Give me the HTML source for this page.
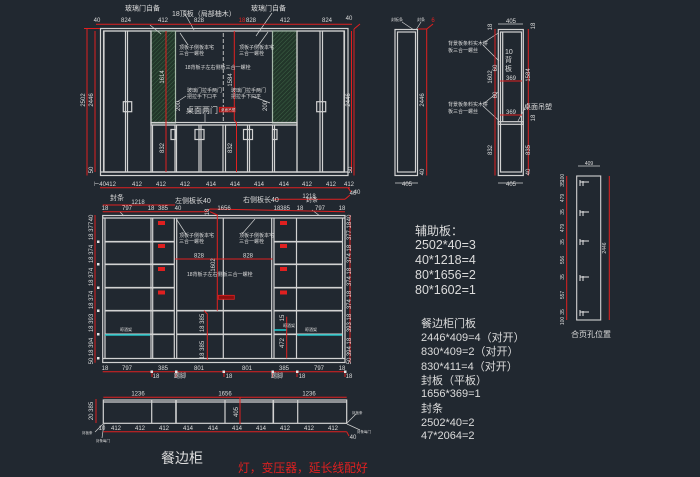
<!DOCTYPE html>
<html><head><meta charset="utf-8"><style>
html,body{margin:0;padding:0;background:#212830;}
svg{display:block;}
text{font-family:"Liberation Sans","Noto Sans CJK SC",sans-serif;fill:#dcdcdc;}
.s{font-size:5px;}
.d{font-size:6px;text-anchor:middle;}
.r{fill:#e02020;}
.serif{font-family:"Liberation Serif","Noto Serif CJK SC",serif;fill:#e6e6e6;}
</style></head><body>
<svg width="700" height="477" viewBox="0 0 700 477" xmlns="http://www.w3.org/2000/svg">
<defs>
<pattern id="h" width="3" height="3" patternUnits="userSpaceOnUse" patternTransform="rotate(45)">
<rect width="3" height="3" fill="#22362a"/><line x1="0" y1="0" x2="0" y2="3" stroke="#3d6346" stroke-width="1"/></pattern>
</defs>
<rect width="700" height="477" fill="#212830"/>

<!-- ================= A: top elevation ================= -->
<g stroke="#d2d2d2" fill="none" stroke-width="1.2">
<rect x="100.5" y="28.5" width="247.5" height="147"/>
<rect x="103.5" y="31" width="241" height="141"/>
<rect x="151" y="31" width="24.5" height="92" fill="url(#h)" stroke="#a5b8a8"/>
<rect x="272.5" y="31" width="24.5" height="92" fill="url(#h)" stroke="#a5b8a8"/>
<rect x="104" y="31" width="21.5" height="141"/>
<rect x="127.5" y="31" width="23.5" height="141"/>
<rect x="297" y="31" width="23" height="141"/>
<rect x="322.5" y="31" width="21.5" height="141"/>
<rect x="151" y="122.5" width="146" height="2.5"/>
<rect x="152.5" y="125" width="22.5" height="47"/>
<rect x="176.5" y="125" width="22.5" height="47"/>
<rect x="201" y="125" width="22" height="47"/>
<rect x="225.5" y="125" width="22" height="47"/>
<rect x="249.5" y="125" width="23" height="47"/>
<rect x="274.5" y="125" width="22.5" height="47"/>
<line x1="100.5" y1="172" x2="348" y2="172"/>
<rect x="123.3" y="101.7" width="8.4" height="10"/>
<rect x="316.7" y="101.7" width="9" height="10"/>
<rect x="171" y="129.5" width="4.5" height="10"/>
<rect x="195" y="129.5" width="9" height="10"/>
<rect x="243.5" y="129.5" width="9" height="10"/>
<rect x="272.5" y="129.5" width="4.5" height="10"/>
</g>
<line x1="223.3" y1="33" x2="223.3" y2="122" stroke="#bbbbbb" stroke-dasharray="4 2" stroke-width="1"/>
<!-- leaders A -->
<g stroke="#cfd0d0" stroke-width="0.7" fill="none">
<line x1="150" y1="25" x2="161" y2="34"/>
<line x1="272" y1="13" x2="256" y2="36"/>
<line x1="258" y1="46" x2="268" y2="32"/>
<line x1="188" y1="45" x2="180" y2="33"/>
<line x1="185" y1="14" x2="194" y2="30"/>
<line x1="186" y1="96" x2="177" y2="102"/>
<line x1="252" y1="96" x2="270" y2="103"/>
<line x1="205" y1="113" x2="205" y2="122"/>
</g>
<!-- red dims A -->
<g stroke="#e02020" stroke-width="1" fill="none">
<line x1="96" y1="24.3" x2="352" y2="24.3"/>
<line x1="87" y1="28" x2="87" y2="175.5"/>
<line x1="95" y1="31" x2="95" y2="172"/>
<line x1="84" y1="28.5" x2="100" y2="28.5"/>
<line x1="351.5" y1="31" x2="351.5" y2="172"/>
<line x1="354" y1="29" x2="354" y2="175.5"/>
<line x1="354" y1="29" x2="360" y2="24"/>
<line x1="166" y1="31" x2="166" y2="172"/>
<polyline points="234.3,31 234.3,120 236.5,123 236.5,172"/>
<line x1="100" y1="187.7" x2="350" y2="187.7"/>
<polyline points="348,187.7 351,192"/>
</g>
<rect x="219.3" y="107.3" width="15.7" height="4.6" fill="#8a1010" stroke="#e02020" stroke-width="0.8"/>
<text x="221" y="111" class="s" style="font-size:3.6px">桌面吊塑</text>
<g class="d">
<text x="97" y="22">40</text><text x="126" y="22">824</text><text x="163" y="22">412</text>
<text x="199" y="22">828</text><text x="242" y="22" class="r" style="fill:#e02020">18</text><text x="251" y="22">828</text>
<text x="285" y="22">412</text><text x="327" y="22">824</text><text x="349" y="20">40</text>
<text x="105" y="186">⊢40412</text><text x="137" y="186">412</text><text x="161" y="186">412</text><text x="185" y="186">412</text>
<text x="211" y="186">414</text><text x="235" y="186">414</text><text x="259" y="186">414</text><text x="284" y="186">414</text>
<text x="307" y="186">412</text><text x="331" y="186">412</text><text x="349" y="186">412</text>
<text x="357" y="194">40</text>
</g>
<g class="d">
<text transform="translate(85,100) rotate(-90)">2502</text>
<text transform="translate(93,100) rotate(-90)">2446</text>
<text transform="translate(350,100) rotate(-90)">2446</text>
<text transform="translate(164,77) rotate(-90)">1614</text>
<text transform="translate(164,148) rotate(-90)">832</text>
<text transform="translate(232,80) rotate(-90)">1584</text>
<text transform="translate(232,148) rotate(-90)">832</text>
<text transform="translate(180,106) rotate(-90)">200</text>
<text transform="translate(267,106) rotate(-90)">200</text>
<text transform="translate(93,170) rotate(-90)">50</text>
<text transform="translate(352,170) rotate(-90)">50</text>
</g>
<text x="125" y="10.5" style="font-size:7px">玻璃门自备</text>
<text x="251" y="10.5" style="font-size:7px">玻璃门自备</text>
<text x="172" y="16" style="font-size:7px">18顶板（局部柚木）</text>
<text x="179" y="49" class="s">顶板子侧板本宅</text><text x="179" y="55" class="s">三合一螺栓</text>
<text x="239" y="49" class="s">顶板子侧板本宅</text><text x="239" y="55" class="s">三合一螺栓</text>
<text x="185" y="69" class="s">18背板子左右侧板三合一螺栓</text>
<text x="187" y="92" class="s">玻璃门拉手两门</text><text x="187" y="98" class="s">把拉手下口平</text>
<text x="231" y="92" class="s">玻璃门拉手两门</text><text x="231" y="98" class="s">把拉手下口平</text>
<text x="186" y="113" style="font-size:8px">桌面两门</text>

<!-- ================= D: side sections ================= -->
<g stroke="#d2d2d2" fill="none" stroke-width="1.2">
<rect x="395" y="29.5" width="22.5" height="146"/>
<rect x="397.5" y="32" width="18" height="140"/>
<rect x="498.3" y="29.5" width="25" height="146"/>
<rect x="500.5" y="32" width="21" height="140"/>
<rect x="498.3" y="121.7" width="25" height="2.6"/>
<line x1="502.7" y1="32" x2="502.7" y2="121.7"/>
</g>
<g stroke="#cfd0d0" stroke-width="0.7">
<line x1="402" y1="22" x2="414" y2="30"/><line x1="421" y1="22" x2="416" y2="30"/>
<line x1="483" y1="43" x2="498.3" y2="33"/><line x1="483" y1="45" x2="499" y2="61"/>
<line x1="483" y1="104" x2="498.3" y2="92"/><line x1="483" y1="106" x2="498.3" y2="120"/>
<line x1="525" y1="108" x2="518" y2="121"/>
</g>
<g stroke="#e02020" stroke-width="1" fill="none">
<line x1="426.7" y1="29" x2="426.7" y2="175.5"/><polyline points="418,29 426.7,29 433,24"/>
<line x1="495" y1="29" x2="495" y2="175.5"/>
<line x1="528.3" y1="29" x2="528.3" y2="175.5"/>
<line x1="500" y1="81" x2="522" y2="81"/>
<line x1="500" y1="115" x2="522" y2="115"/>
</g>
<g stroke="#cfd0d0" stroke-width="0.8">
<line x1="395" y1="183" x2="418" y2="183"/><line x1="498" y1="183" x2="523" y2="183"/>
<line x1="498" y1="24" x2="523" y2="24"/>
</g>
<g class="d">
<text x="407" y="186">405</text><text x="511" y="186">405</text><text x="511" y="23">405</text>
<text x="511" y="80">369</text><text x="511" y="114">369</text>
<text x="433" y="22" style="fill:#e02020">6</text>
<text transform="translate(424,100) rotate(-90)">2446</text>
<text transform="translate(424,172) rotate(-90)">40</text>
<text transform="translate(492,27) rotate(-90)">18</text>
<text transform="translate(492,77) rotate(-90)">1602</text>
<text transform="translate(497,68) rotate(-90)">60</text>
<text transform="translate(497,95) rotate(-90)">60</text>
<text transform="translate(492,150) rotate(-90)">832</text>
<text transform="translate(530,75) rotate(-90)">1584</text>
<text transform="translate(530,150) rotate(-90)">835</text>
<text transform="translate(530,172) rotate(-90)">40</text>
<text transform="translate(535,26) rotate(-90)">18</text>
<text transform="translate(535,118) rotate(-90)">18</text>
</g>
<text x="391" y="21" style="font-size:4px">封板条</text><text x="417" y="21" style="font-size:4px">封条</text>
<text x="448" y="45" class="s">背景板条料实木拼</text><text x="448" y="52" class="s">板三合一螺丝</text>
<text x="448" y="106" class="s">背景板条料实木拼</text><text x="448" y="113" class="s">板三合一螺丝</text>
<text x="505" y="54" style="font-size:7px">10</text>
<text x="505" y="62" style="font-size:7px">背</text>
<text x="505" y="71" style="font-size:7px">板</text>
<text x="524" y="109" style="font-size:7px">桌面吊塑</text>

<!-- ================= B: middle elevation ================= -->
<g stroke="#d2d2d2" fill="none" stroke-width="1.2">
<rect x="102.7" y="215.5" width="242.3" height="147"/>
<line x1="102.7" y1="218" x2="345" y2="218"/>
<line x1="105" y1="218" x2="105" y2="358.5"/>
<line x1="342.5" y1="218" x2="342.5" y2="358.5"/>
<line x1="102.7" y1="358.5" x2="345" y2="358.5"/>
<line x1="151" y1="218" x2="151" y2="358.5"/><line x1="152.7" y1="218" x2="152.7" y2="358.5"/>
<line x1="174.3" y1="218" x2="174.3" y2="358.5"/><line x1="176.7" y1="218" x2="176.7" y2="358.5"/>
<line x1="223.3" y1="218" x2="223.3" y2="358.5"/>
<line x1="271.7" y1="218" x2="271.7" y2="358.5"/><line x1="274" y1="218" x2="274" y2="358.5"/>
<line x1="296.5" y1="218" x2="296.5" y2="358.5"/>
<g stroke-width="1.7">
<line x1="105" y1="241.7" x2="174.3" y2="241.7"/><line x1="105" y1="264.3" x2="174.3" y2="264.3"/>
<line x1="105" y1="287.7" x2="174.3" y2="287.7"/><line x1="105" y1="310.7" x2="174.3" y2="310.7"/>
<line x1="105" y1="334.3" x2="174.3" y2="334.3"/>
<line x1="274" y1="241.7" x2="342.5" y2="241.7"/><line x1="274" y1="264.3" x2="342.5" y2="264.3"/>
<line x1="274" y1="287.7" x2="342.5" y2="287.7"/><line x1="274" y1="310.7" x2="342.5" y2="310.7"/>
<line x1="274" y1="334.3" x2="342.5" y2="334.3"/>
<line x1="176.7" y1="310.7" x2="271.7" y2="310.7"/><line x1="176.7" y1="334.3" x2="271.7" y2="334.3"/>
</g>
</g>
<g stroke="#21c4c8" stroke-width="1.6">
<line x1="105" y1="335" x2="150" y2="335"/><line x1="274.3" y1="330" x2="286.7" y2="330"/><line x1="297.3" y1="335" x2="342" y2="335"/>
</g>
<g stroke="#cfd0d0" stroke-width="0.7">
<line x1="120" y1="212" x2="124" y2="216"/><line x1="186" y1="234" x2="177" y2="220"/>
<line x1="242" y1="234" x2="255" y2="219"/><line x1="312" y1="210" x2="320" y2="216"/>
</g>
<g fill="#e02020">
<rect x="158" y="221" width="7" height="4"/><rect x="158" y="244" width="7" height="4"/>
<rect x="158" y="267" width="7" height="4"/><rect x="158" y="290.5" width="7" height="4"/>
<rect x="280" y="221" width="7" height="4"/><rect x="280" y="244" width="7" height="4"/>
<rect x="280" y="267" width="7" height="4"/><rect x="280" y="290.5" width="7" height="4"/>
</g>
<rect x="218.3" y="295.3" width="16" height="4" fill="#8a1010" stroke="#e02020" stroke-width="0.8"/>
<g stroke="#e02020" stroke-width="1" fill="none">
<line x1="102.7" y1="205" x2="175" y2="205"/>
<line x1="274" y1="199.3" x2="345" y2="199.3"/><polyline points="345,199.3 350,195"/>
<polyline points="102.7,211.7 207,211.7 210,209 345,211.7"/>
<line x1="175" y1="259" x2="272.7" y2="259"/>
<polyline points="210,211.7 217.3,215 217.3,310.7"/>
<line x1="95" y1="215" x2="95" y2="362.7"/>
<line x1="350" y1="215" x2="350" y2="362.7"/>
<polyline points="204,310.7 207.3,314 207.3,360"/>
<line x1="286.7" y1="316.7" x2="286.7" y2="358.3"/>
<line x1="102.7" y1="371.7" x2="345" y2="371.7"/>
<line x1="152" y1="371.7" x2="152" y2="377"/><line x1="176" y1="371.7" x2="176" y2="377"/>
<line x1="224" y1="371.7" x2="224" y2="377"/><line x1="272.5" y1="371.7" x2="272.5" y2="377"/>
<line x1="297" y1="371.7" x2="297" y2="377"/><line x1="345" y1="371.7" x2="345" y2="377"/>
</g>
<g fill="#e8e8e8">
<rect x="97" y="240.5" width="2.5" height="2.5"/><rect x="97" y="263" width="2.5" height="2.5"/>
<rect x="97" y="286.5" width="2.5" height="2.5"/><rect x="97" y="309.5" width="2.5" height="2.5"/>
<rect x="97" y="333" width="2.5" height="2.5"/><rect x="97" y="357" width="2.5" height="2.5"/>
<rect x="150.5" y="370.5" width="2.5" height="2.5"/><rect x="175" y="370.5" width="2.5" height="2.5"/>
<rect x="222.5" y="370.5" width="2.5" height="2.5"/><rect x="271.5" y="370.5" width="2.5" height="2.5"/>
<rect x="296" y="370.5" width="2.5" height="2.5"/><rect x="344" y="370.5" width="2.5" height="2.5"/>
</g>
<text x="110" y="200" style="font-size:7px">封条</text>
<text x="175" y="203" style="font-size:7px">左侧板长40</text>
<text x="243" y="202" style="font-size:7px">右侧板长40</text>
<text x="306" y="202" style="font-size:6px">封条</text>
<g class="d">
<text x="138" y="204">1218</text><text x="309" y="198">1218</text><text x="353" y="195">40</text>
<text x="105" y="210">18</text><text x="127" y="210">797</text><text x="151" y="210">18</text>
<text x="163" y="210">385</text><text x="178" y="210">40</text><text x="224" y="210">1656</text>
<text x="277" y="210">18</text><text x="285" y="210">385</text><text x="300" y="210">18</text>
<text x="320" y="210">797</text><text x="342" y="210">18</text>
<text x="199" y="257.5">828</text><text x="248" y="257.5">828</text>
<text x="105" y="370">18</text><text x="127" y="370">797</text><text x="163" y="370">385</text>
<text x="199" y="370">801</text><text x="247" y="370">801</text><text x="284" y="370">385</text>
<text x="319" y="370">797</text><text x="342" y="370">18</text>
<text x="156" y="378">18</text><text x="180" y="378">踢脚</text><text x="229" y="378">18</text>
<text x="277" y="378">踢脚</text><text x="302" y="378">18</text><text x="349" y="378">18</text>
<text transform="translate(215,265) rotate(-90)">1602</text>
<text transform="translate(209,212) rotate(-90)">18</text>
<text transform="translate(204,323) rotate(-90)">18 385</text>
<text transform="translate(204,350) rotate(-90)">18 385</text>
<text transform="translate(284,318) rotate(-90)">15</text>
<text transform="translate(284,343) rotate(-90)">472</text>
<text transform="translate(93,218) rotate(-90)">40</text>
<text transform="translate(93,231) rotate(-90)">18 377</text>
<text transform="translate(93,254) rotate(-90)">18 374</text>
<text transform="translate(93,277) rotate(-90)">18 374</text>
<text transform="translate(93,300) rotate(-90)">18 374</text>
<text transform="translate(93,323) rotate(-90)">18 393</text>
<text transform="translate(93,347) rotate(-90)">18 394</text>
<text transform="translate(93,361) rotate(-90)">50</text>
<text transform="translate(351,218) rotate(-90)">40</text>
<text transform="translate(351,231) rotate(-90)">377 18</text>
<text transform="translate(351,254) rotate(-90)">374 18</text>
<text transform="translate(351,277) rotate(-90)">374 18</text>
<text transform="translate(351,300) rotate(-90)">374 18</text>
<text transform="translate(351,323) rotate(-90)">393 18</text>
<text transform="translate(351,347) rotate(-90)">394 18</text>
<text transform="translate(351,361) rotate(-90)">50</text>
</g>
<text x="179" y="237" class="s">顶板子侧板本宅</text><text x="179" y="243" class="s">三合一螺栓</text>
<text x="239" y="237" class="s">顶板子侧板本宅</text><text x="239" y="243" class="s">三合一螺栓</text>
<text x="187" y="276" class="s">18背板子左右侧板三合一螺栓</text>
<text x="120" y="331" style="font-size:4px">晾酒架</text>
<text x="283" y="327" style="font-size:4px">晾酒架</text>
<text x="305" y="331" style="font-size:4px">晾酒架</text>

<!-- ================= C: bottom plan ================= -->
<g stroke="#d2d2d2" fill="none" stroke-width="1.2">
<rect x="103.3" y="400" width="243.4" height="23.3"/>
<line x1="103.3" y1="402" x2="346.7" y2="402"/>
<line x1="151.7" y1="400" x2="151.7" y2="423.3"/><line x1="176" y1="400" x2="176" y2="423.3" stroke-width="1.6"/>
<line x1="225" y1="400" x2="225" y2="423.3"/><line x1="273.3" y1="400" x2="273.3" y2="423.3" stroke-width="1.6"/>
<line x1="297.7" y1="400" x2="297.7" y2="423.3"/>
</g>
<g stroke="#cfd0d0" stroke-width="0.7">
<line x1="95" y1="432" x2="103" y2="424"/><line x1="102" y1="438" x2="104" y2="424"/>
<line x1="356" y1="414" x2="347" y2="423"/><line x1="360" y1="430" x2="347" y2="424"/>
</g>
<g stroke="#e02020" stroke-width="1" fill="none">
<line x1="103.3" y1="397.3" x2="346.7" y2="397.3"/>
<line x1="240" y1="397" x2="240" y2="424"/>
<line x1="96" y1="399" x2="96" y2="423"/>
<line x1="103.3" y1="431.7" x2="346.7" y2="431.7"/><polyline points="346.7,431.7 349,436"/>
</g>
<g class="d">
<text x="138" y="395.5">1236</text><text x="225" y="395.5">1656</text><text x="309" y="395.5">1236</text>
<text x="102" y="430">10</text><text x="116" y="430">412</text><text x="140" y="430">412</text><text x="164" y="430">412</text>
<text x="188" y="430">414</text><text x="213" y="430">414</text><text x="237" y="430">414</text><text x="261" y="430">414</text>
<text x="285" y="430">412</text><text x="309" y="430">412</text><text x="333" y="430">412</text><text x="353" y="439">40</text>
<text transform="translate(93,411) rotate(-90)">20 385</text>
<text transform="translate(238,412) rotate(-90)">405</text>
</g>
<text x="82" y="434" style="font-size:3.5px">封板条</text>
<text x="96" y="442" style="font-size:3.5px">封条每门</text>
<text x="352" y="414" style="font-size:3.5px">封板条</text>
<text x="357" y="433" style="font-size:3.5px">封条每门</text>
<text x="161" y="463" style="font-size:14px">餐边柜</text>
<text x="238" y="472" style="font-size:11.8px;fill:#e02020">灯，变压器，延长线配好</text>

<!-- ================= E: hinge diagram ================= -->
<rect x="576.7" y="176" width="24" height="144" fill="none" stroke="#d2d2d2" stroke-width="1.1"/>
<line x1="578" y1="166" x2="600" y2="166" stroke="#cfd0d0" stroke-width="0.8"/>
<g stroke="#e02020" stroke-width="1">
<line x1="566.7" y1="176" x2="566.7" y2="320"/><line x1="609.3" y1="176" x2="609.3" y2="320"/>
</g>
<g stroke="#e6e6e6" stroke-width="1">
<line x1="580" y1="180" x2="580" y2="186"/><line x1="583" y1="181" x2="583" y2="186"/><line x1="580" y1="182" x2="589" y2="182"/>
<line x1="580" y1="210" x2="580" y2="216"/><line x1="583" y1="211" x2="583" y2="216"/><line x1="580" y1="212" x2="589" y2="212"/>
<line x1="580" y1="239" x2="580" y2="245"/><line x1="583" y1="240" x2="583" y2="245"/><line x1="580" y1="241" x2="589" y2="241"/>
<line x1="580" y1="275" x2="580" y2="281"/><line x1="583" y1="276" x2="583" y2="281"/><line x1="580" y1="277" x2="589" y2="277"/>
<line x1="580" y1="310" x2="580" y2="316"/><line x1="583" y1="311" x2="583" y2="316"/><line x1="580" y1="312" x2="589" y2="312"/>
</g>
<g class="d" style="font-size:5px">
<text x="589" y="165">409</text>
<text transform="translate(606,248) rotate(-90)">2446</text>
<text transform="translate(564,178) rotate(-90)">100</text>
<text transform="translate(564,184) rotate(-90)">35</text>
<text transform="translate(564,198) rotate(-90)">479</text>
<text transform="translate(564,212) rotate(-90)">35</text>
<text transform="translate(564,228) rotate(-90)">479</text>
<text transform="translate(564,242) rotate(-90)">35</text>
<text transform="translate(564,260) rotate(-90)">556</text>
<text transform="translate(564,277) rotate(-90)">35</text>
<text transform="translate(564,295) rotate(-90)">557</text>
<text transform="translate(564,312) rotate(-90)">35</text>
<text transform="translate(564,321) rotate(-90)">100</text>
</g>
<text x="571" y="337" style="font-size:8px">合页孔位置</text>

<!-- ================= right text ================= -->
<g class="serif">
<text x="415" y="235" style="font-size:12px">辅助板：</text>
<text x="415" y="249" style="font-size:12.5px">2502*40=3</text>
<text x="415" y="264" style="font-size:12.5px">40*1218=4</text>
<text x="415" y="279" style="font-size:12.5px">80*1656=2</text>
<text x="415" y="294" style="font-size:12.5px">80*1602=1</text>
<g style="font-size:11px">
<text x="421" y="327">餐边柜门板</text>
<text x="421" y="341">2446*409=4（对开）</text>
<text x="421" y="355">830*409=2（对开）</text>
<text x="421" y="370">830*411=4（对开）</text>
<text x="421" y="384">封板（平板）</text>
<text x="421" y="397">1656*369=1</text>
<text x="421" y="412">封条</text>
<text x="421" y="426">2502*40=2</text>
<text x="421" y="439">47*2064=2</text>
</g>
</g>
</svg>
</body></html>
